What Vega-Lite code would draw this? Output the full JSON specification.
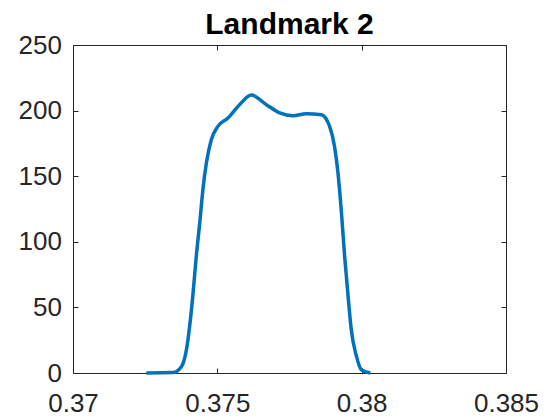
{
  "$schema": "https://vega.github.io/schema/vega-lite/v6.json",
  "width": 433,
  "height": 328,
  "autosize": {"type": "none"},
  "padding": {"left": 73, "top": 45, "right": 54, "bottom": 47},
  "background": "white",
  "title": {
    "text": "Landmark 2",
    "font": "Liberation Sans",
    "fontSize": 30,
    "fontWeight": "bold",
    "color": "#000000",
    "anchor": "middle",
    "baseline": "top",
    "offset": -8
  },
  "config": {
    "view": {"stroke": "#262626", "strokeWidth": 1},
    "axis": {
      "domain": false,
      "grid": false,
      "labelFont": "Liberation Sans",
      "labelFontSize": 26,
      "labelColor": "#262626",
      "tickColor": "#262626",
      "tickWidth": 1,
      "tickSize": -5,
      "labelFlush": false,
      "labelOverlap": false,
      "title": null
    }
  },
  "data": {
    "values": [
      {"x": 0.37254, "y": 0},
      {"x": 0.37346, "y": 0.3},
      {"x": 0.37376, "y": 5},
      {"x": 0.37393, "y": 17.8},
      {"x": 0.37404, "y": 35.5},
      {"x": 0.37416, "y": 61},
      {"x": 0.37427, "y": 88.9},
      {"x": 0.37439, "y": 114.3},
      {"x": 0.3745, "y": 139.7},
      {"x": 0.37462, "y": 160},
      {"x": 0.37479, "y": 177.8},
      {"x": 0.37502, "y": 188},
      {"x": 0.37537, "y": 194.4},
      {"x": 0.37577, "y": 204.5},
      {"x": 0.37618, "y": 211.8},
      {"x": 0.3767, "y": 204.5},
      {"x": 0.37716, "y": 198.2},
      {"x": 0.37762, "y": 196.1},
      {"x": 0.37808, "y": 197.6},
      {"x": 0.3786, "y": 196.9},
      {"x": 0.37889, "y": 188},
      {"x": 0.37906, "y": 172.7},
      {"x": 0.37918, "y": 152.4},
      {"x": 0.3793, "y": 122},
      {"x": 0.37941, "y": 88.9},
      {"x": 0.37953, "y": 58.4},
      {"x": 0.37964, "y": 33},
      {"x": 0.37982, "y": 12.7},
      {"x": 0.37999, "y": 2.5},
      {"x": 0.3803, "y": 0}
    ]
  },
  "layer": [
    {
      "mark": {"type": "line", "color": "#0072BD", "strokeWidth": 3.5, "interpolate": "monotone", "clip": false},
      "encoding": {
        "x": {
          "field": "x", "type": "quantitative",
          "scale": {"domain": [0.37, 0.385], "nice": false, "zero": false},
          "axis": {"orient": "bottom", "values": [0.37, 0.375, 0.38, 0.385], "format": "~g", "labelPadding": 22}
        },
        "y": {
          "field": "y", "type": "quantitative",
          "scale": {"domain": [0, 250], "nice": false},
          "axis": {"orient": "left", "values": [0, 50, 100, 150, 200, 250], "labelPadding": 16.5}
        }
      }
    },
    {
      "mark": {"type": "line", "opacity": 0},
      "encoding": {
        "x": {
          "field": "x", "type": "quantitative",
          "axis": {"orient": "top", "values": [0.37, 0.375, 0.38, 0.385], "labels": false}
        },
        "y": {
          "field": "y", "type": "quantitative",
          "axis": {"orient": "right", "values": [0, 50, 100, 150, 200, 250], "labels": false}
        }
      }
    }
  ],
  "resolve": {"axis": {"x": "independent", "y": "independent"}}
}
